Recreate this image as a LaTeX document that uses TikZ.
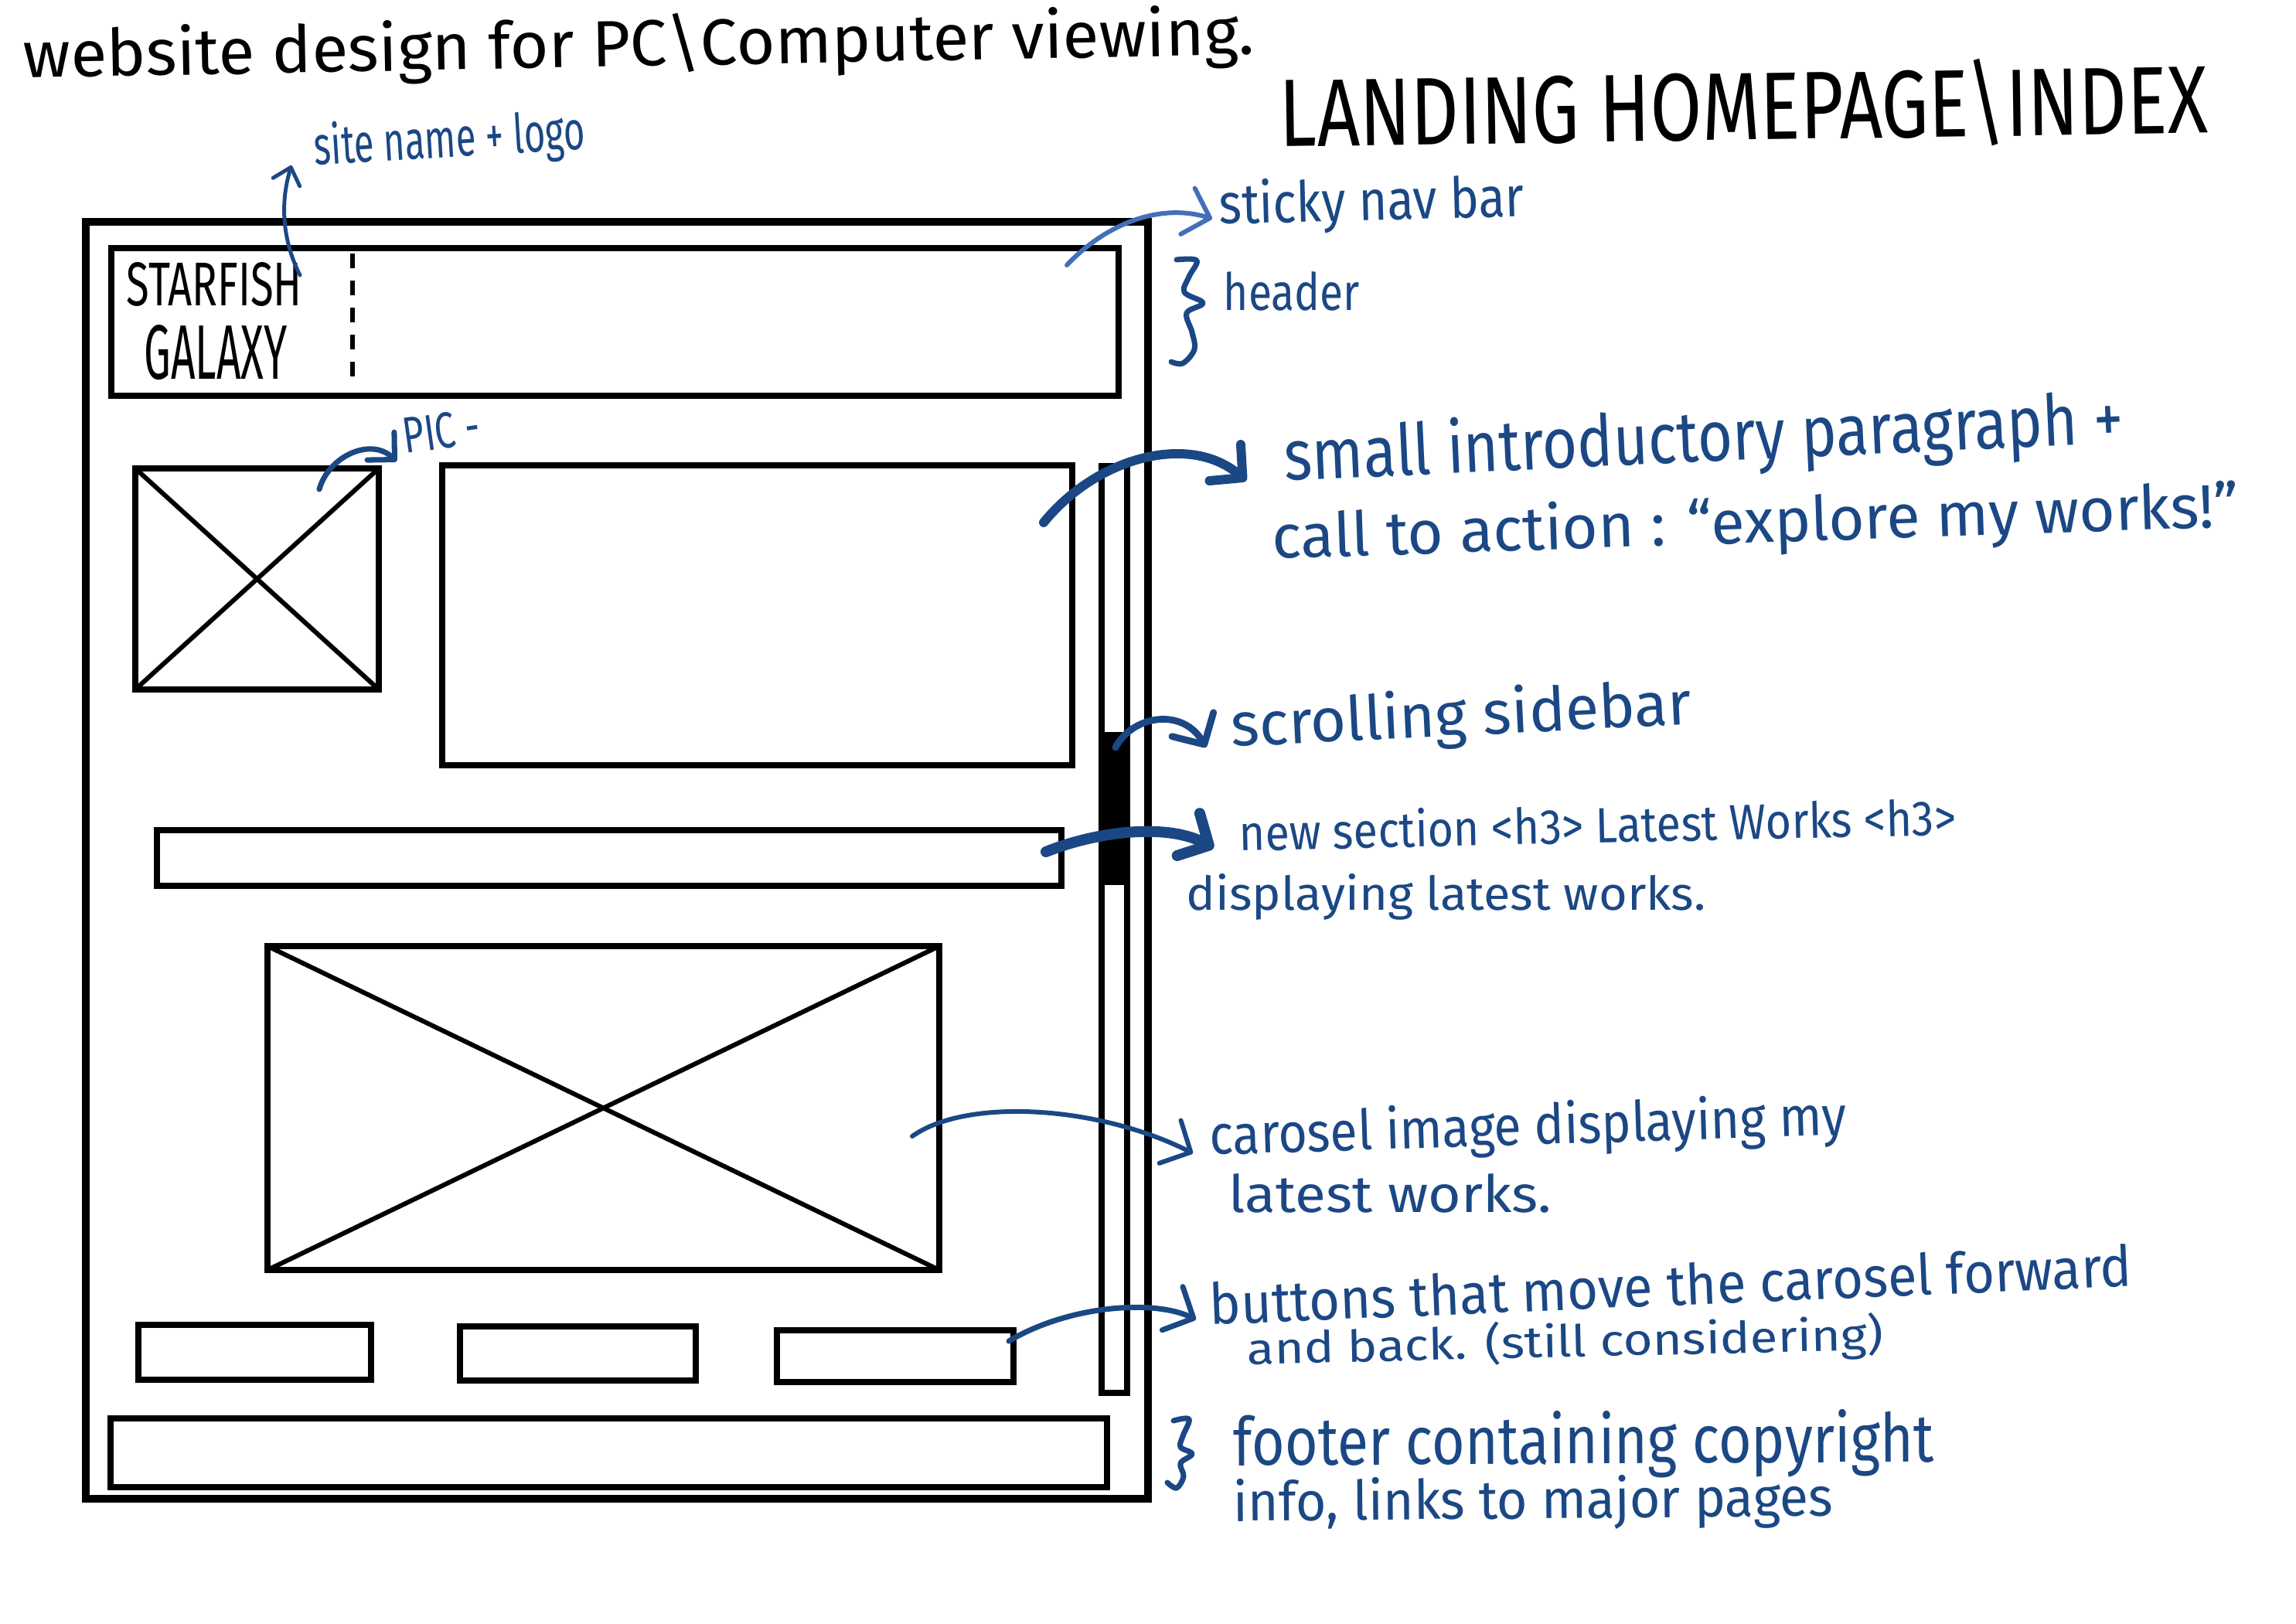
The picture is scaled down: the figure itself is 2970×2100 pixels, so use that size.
\documentclass[tikz,border=0pt]{standalone}
\usepackage{fontspec}
\usepackage{graphicx}
\setmainfont{Fira Sans}
\usetikzlibrary{arrows.meta}
\definecolor{ink}{RGB}{27,72,132}
\definecolor{inklight}{RGB}{66,112,184}
\newcommand\fitbox[3]{\resizebox{#1}{#2}{#3}}
\begin{document}
\begin{tikzpicture}[x=0.01cm,y=-0.01cm,
  frame/.style={draw=black,line width=2.9pt},
  wbox/.style={draw=black,line width=2.5pt},
  xline/.style={draw=black,line width=1.7pt},
  lbl/.style={inner sep=0pt,anchor=base west,text=ink},
  blk/.style={inner sep=0pt,anchor=base west,text=black},
  note/.style={draw=ink,line width=#1,line cap=round,
    -{Straight Barb[length=0.3cm,width=0.62cm,round]}},
  brace/.style={draw=ink,line width=2pt,line cap=round,line join=round},
]
\fill[white] (0,0) rectangle (2970,2100);
\useasboundingbox (0,0) rectangle (2970,2100);

% ---------- wireframe ----------
\draw[frame] (111,287) rectangle (1485,1939);
\draw[wbox] (144,321) rectangle (1447,512);
\draw[black,line width=1.8pt,dash pattern=on 0.19cm off 0.16cm] (456,328) -- (456,497);
\node[blk] (starfish) at (163,395) {\fitbox{2.27cm}{0.56cm}{STARFISH}};
\node[blk] (galaxy) at (186,490) {\fitbox{1.85cm}{0.7cm}{GALAXY}};

\draw[wbox] (175,606) rectangle (490,892);
\draw[xline] (175,606) -- (490,892);
\draw[xline] (490,606) -- (175,892);

\draw[wbox] (572,602) rectangle (1387,990);

\draw[wbox] (1425,603) rectangle (1458,1802);
\fill[black] (1425,947) rectangle (1460,1145);

\draw[wbox] (203,1074) rectangle (1373,1146);

\draw[wbox] (346,1224) rectangle (1215,1643);
\draw[xline] (346,1224) -- (1215,1643);
\draw[xline] (1215,1224) -- (346,1643);

\draw[wbox] (179,1714) rectangle (480,1785);
\draw[wbox] (595,1716) rectangle (900,1786);
\draw[wbox] (1005,1721) rectangle (1311,1788);

\draw[wbox] (143,1835) rectangle (1432,1924);

% ---------- titles ----------
\node[blk,rotate=1.1] (title) at (30,101)
  {\fitbox{15.92cm}{0.68cm}{website design for PC\textbackslash Computer viewing.}};
\node[blk,rotate=0.85] (landing) at (1655,190)
  {\fitbox{12.0cm}{1.0cm}{LANDING HOMEPAGE\textbackslash INDEX}};

% ---------- annotations ----------
\node[lbl,rotate=3.5] (sitename) at (407,214) {\fitbox{3.51cm}{0.55cm}{site name + logo}};
\node[lbl,rotate=8] (pic) at (524,587) {\fitbox{1.0cm}{0.46cm}{PIC -}};
\node[lbl,rotate=1.5] (sticky) at (1577,290) {\fitbox{3.94cm}{0.57cm}{sticky nav bar}};
\node[lbl] (header) at (1582,401) {\fitbox{1.76cm}{0.5cm}{header}};
\node[lbl,rotate=2.6] (intro1) at (1662,622) {\fitbox{10.86cm}{0.72cm}{small introductory paragraph +}};
\node[lbl,rotate=1.9] (intro2) at (1646,723) {\fitbox{12.5cm}{0.62cm}{call to action : “explore my works!”}};
\node[lbl,rotate=2.8] (scroll) at (1593,966) {\fitbox{5.96cm}{0.62cm}{scrolling sidebar}};
\node[lbl,rotate=1.3] (section1) at (1603,1101) {\fitbox{9.27cm}{0.5cm}{new section <h3> Latest Works <h3>}};
\node[lbl] (section2) at (1534,1177) {\fitbox{6.71cm}{0.47cm}{displaying latest works.}};
\node[lbl,rotate=1.8] (carousel1) at (1565,1494) {\fitbox{8.23cm}{0.56cm}{carosel image displaying my}};
\node[lbl] (carousel2) at (1589,1568) {\fitbox{4.17cm}{0.5cm}{latest works.}};
\node[lbl,rotate=2.4] (buttons1) at (1565,1714) {\fitbox{11.93cm}{0.55cm}{buttons that move the carosel forward}};
\node[lbl,rotate=1.3] (buttons2) at (1613,1765) {\fitbox{8.23cm}{0.48cm}{and back. (still considering)}};
\node[lbl,rotate=0.3] (footer1) at (1595,1896) {\fitbox{9.06cm}{0.68cm}{footer containing copyright}};
\node[lbl,rotate=0.5] (footer2) at (1595,1968) {\fitbox{7.75cm}{0.55cm}{info, links to major pages}};

% ---------- connector ends ----------
\coordinate (sA) at (388,356);  \coordinate (sB) at (377,214);
\coordinate (pA) at (413,633);  \coordinate (pB) at (513,597);
\coordinate (nA) at (1380,343); \coordinate (nB) at (1568,283);
\coordinate (iA) at (1350,676); \coordinate (iB) at (1612,622);
\coordinate (bA) at (1443,967); \coordinate (bB) at (1560,967);
\coordinate (eA) at (1353,1102);\coordinate (eB) at (1570,1097);
\coordinate (cA) at (1180,1470);\coordinate (cB) at (1543,1492);
\coordinate (uA) at (1305,1735);\coordinate (uB) at (1547,1707);

\draw[note=1.4pt,-{Straight Barb[length=0.2cm,width=0.36cm,round]}] (sA) .. controls (360,300) and (366,250) .. (sB);
\draw[note=2pt,-{Straight Barb[length=0.25cm,width=0.5cm,round]}] (pA) .. controls (425,590) and (480,565) .. (pB);
\draw[note=1.7pt,draw=inklight] (nA) .. controls (1430,290) and (1500,262) .. (nB);
\draw[note=3.4pt] (iA) .. controls (1420,590) and (1540,560) .. (iB);
\draw[note=2.5pt] (bA) .. controls (1465,925) and (1530,915) .. (bB);
\draw[note=4pt] (eA) .. controls (1420,1075) and (1510,1065) .. (eB);
\draw[note=1.7pt] (cA) .. controls (1250,1420) and (1420,1430) .. (cB);
\draw[note=2pt] (uA) .. controls (1380,1690) and (1490,1680) .. (uB);

% ---------- braces ----------
\draw[brace] plot[smooth,tension=0.6] coordinates {(1522,336) (1548,337) (1538,358) (1532,378) (1556,392) (1535,405) (1542,430) (1545,452) (1530,470) (1515,468)};
\draw[brace] plot[smooth,tension=0.6] coordinates {(1518,1838) (1538,1836) (1530,1858) (1527,1872) (1542,1881) (1527,1893) (1531,1910) (1522,1925) (1510,1918)};
\end{tikzpicture}
\end{document}
